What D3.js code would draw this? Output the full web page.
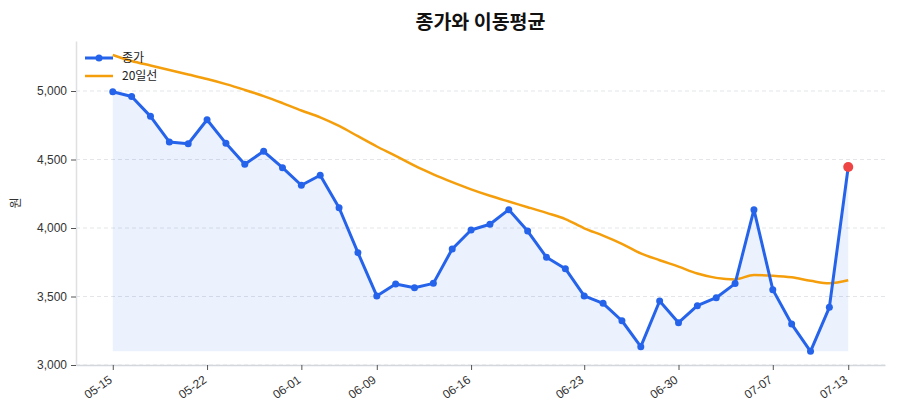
<!DOCTYPE html>
<html>
<head>
<meta charset="utf-8">
<script src="https://cdn.jsdelivr.net/npm/d3@7"></script>
<style>
  body { margin: 0; background: #fff; }
  svg { font-family: "Noto Sans CJK KR", "Noto Sans", sans-serif; }
</style>
</head>
<body>
<svg id="chart" width="900" height="420"></svg>
<script>
const dates = ['05-15','05-16','05-19','05-20','05-21','05-22','05-23','05-26','05-27','05-28',
  '06-01','06-02','06-04','06-05','06-09','06-10','06-11','06-12','06-13','06-16',
  '06-17','06-18','06-19','06-20','06-22','06-23','06-24','06-25','06-26','06-27',
  '06-30','07-01','07-02','07-03','07-04','07-07','07-08','07-09','07-10','07-13']
const close = [4995, 4960, 4815, 4628, 4615, 4790, 4618, 4465, 4560, 4440,
  4312, 4385, 4148, 3820, 3504, 3591, 3564, 3596, 3847, 3985,
  4027, 4134, 3978, 3786, 3703, 3504, 3450, 3323, 3134, 3467,
  3309, 3433, 3491, 3594, 4134, 3550, 3299, 3100, 3421, 4445]
const ma20 = [5263, 5219, 5186, 5153, 5120, 5087, 5050, 5008, 4963, 4912,
  4858, 4808, 4745, 4670, 4595, 4527, 4455, 4392, 4335, 4282,
  4235, 4193, 4152, 4110, 4065, 3998, 3945, 3885, 3815, 3765,
  3718, 3668, 3636, 3625, 3657, 3652, 3640, 3615, 3596, 3618]
const tickIdx = [0, 5, 10, 14, 19, 25, 30, 35, 39]
const yTicks = [3000, 3500, 4000, 4500, 5000]

const svg = d3.select('#chart')
const margin = {left: 76, right: 15, top: 41, bottom: 55}
const W = 900, H = 420

const x = d3.scaleLinear().domain([-1.95, dates.length - 1 + 1.95])
  .range([margin.left, W - margin.right])
const y = d3.scaleLinear().domain([3000, 5365]).range([H - margin.bottom, margin.top])

// grid
svg.append('g').selectAll('line').data(yTicks).enter().append('line')
  .attr('x1', margin.left).attr('x2', W - margin.right)
  .attr('y1', d => y(d)).attr('y2', d => y(d))
  .style('stroke', '#e3e5e8').style('stroke-dasharray', '4,3')

// area
const base = d3.min(close)
svg.append('path').datum(close)
  .attr('d', d3.area().x((d, i) => x(i)).y0(y(base)).y1(d => y(d)))
  .style('fill', '#2563eb').style('fill-opacity', 0.09)

// axes
const yAxis = svg.append('g').attr('transform', `translate(${margin.left},0)`)
  .call(d3.axisLeft(y).tickValues(yTicks).tickFormat(d3.format(',')).tickSize(5).tickSizeOuter(0))
yAxis.select('.domain').style('stroke', '#dde0e4').style('stroke-width', 1.5)
yAxis.selectAll('.tick line').style('stroke', '#555')
yAxis.selectAll('.tick text').style('font-size', '12px').style('fill', '#333').attr('x', -9)

const xAxis = svg.append('g').attr('transform', `translate(0,${H - margin.bottom})`)
  .call(d3.axisBottom(x).tickValues(tickIdx).tickFormat(i => dates[i]).tickSize(5).tickSizeOuter(0))
xAxis.select('.domain').style('stroke', '#d4d7db').style('stroke-width', 1.5)
xAxis.selectAll('.tick line').style('stroke', '#555')
xAxis.selectAll('.tick text')
  .attr('x', 0).attr('y', 0).attr('dy', 0)
  .attr('transform', 'translate(-2,14) rotate(-35)')
  .style('text-anchor', 'end').style('dominant-baseline', 'middle')
  .style('font-size', '12px').style('fill', '#333')
svg.selectAll('.domain').style('fill', 'none')

// MA line
svg.append('path').datum(ma20)
  .attr('d', d3.line().x((d, i) => x(i)).y(d => y(d)).curve(d3.curveMonotoneX))
  .style('fill', 'none').style('stroke', '#f59e0b').style('stroke-width', 2.5)

// close line
svg.append('path').datum(close)
  .attr('d', d3.line().x((d, i) => x(i)).y(d => y(d)))
  .style('fill', 'none').style('stroke', '#2563eb').style('stroke-width', 3)
  .style('stroke-linejoin', 'round')

svg.append('g').selectAll('circle').data(close).enter().append('circle')
  .attr('cx', (d, i) => x(i)).attr('cy', d => y(d))
  .attr('r', (d, i) => i === close.length - 1 ? 5 : 3.5)
  .style('fill', (d, i) => i === close.length - 1 ? '#ef4444' : '#2563eb')

// title
svg.append('text').attr('x', (margin.left + W - margin.right) / 2).attr('y', 29)
  .attr('text-anchor', 'middle').style('font-size', '19.5px').style('font-weight', 'bold')
  .style('fill', '#111').text('종가와 이동평균')

// y label
svg.append('text').attr('transform', `translate(20,${(margin.top + H - margin.bottom) / 2}) rotate(-90)`)
  .attr('text-anchor', 'middle').style('font-size', '12px').style('fill', '#333').text('원')

// legend
const legend = svg.append('g').attr('transform', 'translate(85,58)')
legend.append('line').attr('x1', 0).attr('x2', 28).attr('y1', 0).attr('y2', 0)
  .style('stroke', '#2563eb').style('stroke-width', 3)
legend.append('circle').attr('cx', 14).attr('cy', 0).attr('r', 3.5).style('fill', '#2563eb')
legend.append('text').attr('x', 37).attr('y', 0).attr('dy', '0.35em')
  .style('font-size', '12px').style('fill', '#222').text('종가')
legend.append('line').attr('x1', 0).attr('x2', 28).attr('y1', 18).attr('y2', 18)
  .style('stroke', '#f59e0b').style('stroke-width', 2.5)
legend.append('text').attr('x', 37).attr('y', 18).attr('dy', '0.35em')
  .style('font-size', '12px').style('fill', '#222').text('20일선')
</script>
</body>
</html>
